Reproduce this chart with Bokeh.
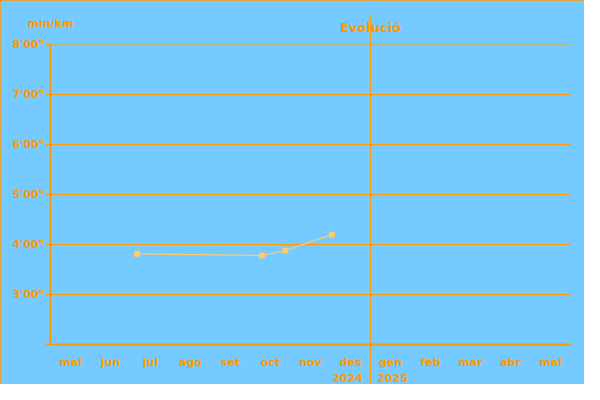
from datetime import date
import calendar
from bokeh.plotting import figure
from bokeh.models import FixedTicker, Range1d, LinearAxis, Span
from bokeh.embed import file_html
from bokeh.resources import INLINE

# ---- data ----
month_labels = ["mai", "jun", "jul", "ago", "set", "oct", "nov", "des",
                "gen", "feb", "mar", "abr", "mai"]
start_year, start_month = 2024, 5
year_labels = ["2024", "2025"]
year_label_pos = [7.425, 8.55]                # month-index positions of year captions
new_year_pos = 8                              # gen 2025
run_dates = ["2024-07-06", "2024-10-10", "2024-10-28", "2024-12-02"]
pace_seconds = [229, 227, 233, 252]           # seconds per km
y_ticks = [2, 3, 4, 5, 6, 7, 8]                # minutes per km
grid_ticks = [3, 4, 5, 6, 7, 8]

ORANGE = "#FF9900"
BLUE = "#75CAFF"
LINE = "#FFCC66"
FONT = "DejaVu Sans"


def month_pos(s):
    d = date.fromisoformat(s)
    idx = (d.year - start_year) * 12 + (d.month - start_month)
    dim = calendar.monthrange(d.year, d.month)[1]
    return idx + (d.day - 1) / dim


xs = [month_pos(s) for s in run_dates]
ys = [v / 60 for v in pace_seconds]

p = figure(width=584, height=384, x_range=Range1d(0, len(month_labels)),
           y_range=Range1d(2, 8.01), output_backend="svg", toolbar_location=None,
           min_border_left=50, min_border_right=14, min_border_top=44,
           min_border_bottom=40)
p.styles = {"outline": "2px solid " + ORANGE, "outline-offset": "-2px",
            "background-color": BLUE}
p.background_fill_color = None
p.border_fill_color = BLUE
p.outline_line_color = None


def style_labels(ax, size="11px"):
    ax.major_label_text_color = ORANGE
    ax.major_label_text_font = FONT
    ax.major_label_text_font_style = "bold"
    ax.major_label_text_font_size = size


# bottom axis: months (+ new-year separator as a long minor tick)
xa = p.xaxis[0]
xa.ticker = FixedTicker(ticks=[i + 0.5 for i in range(len(month_labels))],
                        minor_ticks=[new_year_pos])
xa.major_label_overrides = {i + 0.5: m for i, m in enumerate(month_labels)}
xa.major_tick_line_color = None
xa.major_tick_out = 0
xa.major_tick_in = 0
xa.minor_tick_line_color = ORANGE
xa.minor_tick_in = 0
xa.minor_tick_out = 40
xa.axis_line_color = ORANGE
xa.axis_line_width = 2
xa.major_label_standoff = -29
style_labels(xa)

# second bottom axis: years
ya_years = LinearAxis(ticker=FixedTicker(ticks=year_label_pos),
                      major_label_overrides=dict(zip(year_label_pos, year_labels)),
                      axis_line_color=None, major_tick_line_color=None,
                      minor_tick_line_color=None, major_tick_out=0, major_tick_in=0,
                      minor_tick_out=0, major_label_standoff=2)
style_labels(ya_years)
p.add_layout(ya_years, "below")

# top axis: separator line above the frame, with the chart title
top = LinearAxis(ticker=FixedTicker(ticks=[new_year_pos]),
                 major_label_overrides={new_year_pos: "Evolució"},
                 axis_line_color=None, major_tick_line_color=ORANGE,
                 major_tick_in=0, major_tick_out=30, minor_tick_line_color=None,
                 major_label_standoff=-20)
style_labels(top, "13px")
p.add_layout(top, "above")

# left axis
yax = p.yaxis[0]
yax.ticker = FixedTicker(ticks=y_ticks)
yax.major_label_overrides = {t: ("" if t == 2 else "%d'00\"" % t) for t in y_ticks}
yax.major_tick_line_color = ORANGE
yax.major_tick_in = 0
yax.major_tick_out = 5
yax.minor_tick_line_color = None
yax.axis_line_color = ORANGE
yax.axis_line_width = 2
yax.major_label_standoff = 1
style_labels(yax)

# unit caption
p.title.text = "min/km"
p.title.align = "left"
p.title.offset = -23
p.title.standoff = -26
p.title.text_color = ORANGE
p.title.text_font = FONT
p.title.text_font_style = "bold"
p.title.text_font_size = "11px"

p.xgrid.visible = False
p.ygrid.ticker = FixedTicker(ticks=grid_ticks)
p.ygrid.grid_line_color = ORANGE
p.ygrid.grid_line_width = 1

p.add_layout(Span(location=new_year_pos, dimension="height",
                  line_color=ORANGE, line_width=1))

# data
p.line(xs, ys, line_color=LINE, line_width=1.2)
p.scatter(xs, ys, marker="square", size=5, fill_color=LINE, line_color=LINE)

open("out.html", "w").write(file_html(p, INLINE))
